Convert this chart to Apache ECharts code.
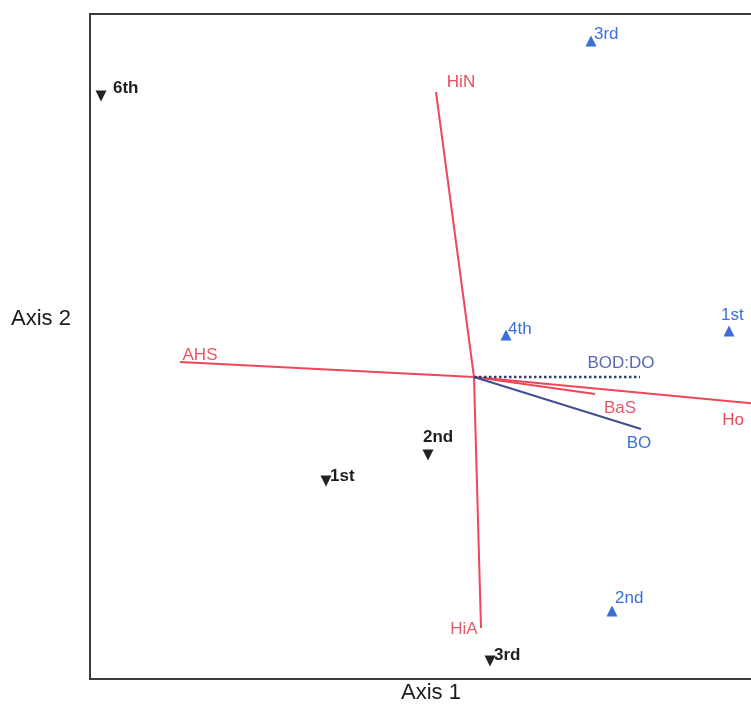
<!DOCTYPE html>
<html><head><meta charset="utf-8">
<script src="https://cdn.jsdelivr.net/npm/echarts@6/dist/echarts.min.js"></script>
<style>html,body{margin:0;padding:0;background:#fff}#c{width:751px;height:705px}</style>
</head><body><div id="c"></div>
<script>
// Site scores (black, down triangles)
const blackNames = ['6th', '1st', '2nd', '3rd'];
const blackX = [-3.73, -1.48, -0.46, 0.16];
const blackY = [2.81, -1.04, -0.78, -2.84];
// Site scores (blue, up triangles)
const blueNames = ['3rd', '4th', '1st', '2nd'];
const blueX = [1.17, 0.32, 2.55, 1.38];
const blueY = [3.36, 0.42, 0.46, -2.34];
// Environmental vectors
const vecNames = ['HiN', 'HiA', 'AHS', 'Ho', 'BaS', 'BO', 'BOD:DO'];
const vecX = [-0.38, 0.07, -2.94, 2.86, 1.21, 1.67, 1.66];
const vecY = [2.85, -2.51, 0.15, -0.27, -0.17, -0.52, 0.0];

const RED = '#ef4658';
const vecStyle = {
  'HiN': {color: RED, type: 'solid', width: 2, lab: '#ec4d5e', off: [25, -10]},
  'HiA': {color: RED, type: 'solid', width: 2, lab: '#e45a66', off: [-17, 1]},
  'AHS': {color: RED, type: 'solid', width: 2, lab: '#ec5564', off: [20, -7]},
  'Ho': {color: RED, type: 'solid', width: 2, lab: '#ef4658', off: [-27, 16]},
  'BaS': {color: RED, type: 'solid', width: 2, lab: '#e8586a', off: [25, 14]},
  'BO': {color: '#414f92', type: 'solid', width: 2, lab: '#3f72d0', off: [-2, 14]},
  'BOD:DO': {color: '#2f3c78', type: 'dotted', width: 2.5, lab: '#5a6ab0', off: [-19, -14]}
};
const blackOff = {'6th': [12, -8], '1st': [4, -5], '2nd': [-5, -18], '3rd': [4, -6]};
const blueOff = {'3rd': [3, -7], '4th': [2, -6], '1st': [-8, -16], '2nd': [3, -13]};

const chart = echarts.init(document.getElementById('c'));
const FONT = 'Liberation Sans, Arial, sans-serif';

const series = [];
vecNames.forEach((n, i) => {
  const s = vecStyle[n];
  series.push({
    type: 'line', name: n, showSymbol: false, silent: true, z: 2,
    data: [[0, 0], [vecX[i], vecY[i]]],
    lineStyle: {color: s.color, width: s.width, type: s.type}
  });
});
series.push({
  type: 'scatter', symbolSize: 0, itemStyle: {color: 'rgba(0,0,0,0)', opacity: 1}, silent: true, z: 5, clip: false,
  data: vecNames.map((n, i) => ({
    value: [vecX[i], vecY[i]], name: n,
    label: {show: true, position: 'inside', formatter: n, offset: vecStyle[n].off,
      color: vecStyle[n].lab, fontSize: 17, fontFamily: FONT, align: 'center', verticalAlign: 'middle'}
  }))
});
series.push({
  type: 'scatter', symbol: 'triangle', symbolRotate: 180, symbolSize: 11, z: 4,
  itemStyle: {color: '#222222', opacity: 1},
  data: blackNames.map((n, i) => ({
    value: [blackX[i], blackY[i]],
    label: {show: true, position: 'inside', formatter: n, offset: blackOff[n],
      color: '#1e1e1e', fontSize: 17, fontWeight: 'bold', fontFamily: FONT, align: 'left', verticalAlign: 'middle'}
  }))
});
series.push({
  type: 'scatter', symbol: 'triangle', symbolSize: 11, z: 4,
  itemStyle: {color: '#3a6fd8', opacity: 1},
  data: blueNames.map((n, i) => ({
    value: [blueX[i], blueY[i]],
    label: {show: true, position: 'inside', formatter: n, offset: blueOff[n],
      color: '#3a6fd8', fontSize: 17, fontFamily: FONT, align: 'left', verticalAlign: 'middle'}
  }))
});

const hidden = {axisLine: {show: false}, axisTick: {show: false}, axisLabel: {show: false}, splitLine: {show: false}};
chart.setOption({
  animation: false,
  backgroundColor: '#ffffff',
  grid: {left: 90, top: 14, right: 0, bottom: 26, show: false},
  xAxis: Object.assign({type: 'value', min: -3.84, max: 2.77}, hidden),
  yAxis: Object.assign({type: 'value', min: -3.02, max: 3.63}, hidden),
  graphic: [
    {type: 'polyline', z: 10, shape: {points: [[760, 14], [90, 14], [90, 679], [760, 679]]},
      style: {stroke: '#3a3a3a', lineWidth: 2, fill: null}},
    {type: 'text', left: 401, top: 682, style: {text: 'Axis 1', fontSize: 22, fontFamily: FONT, fill: '#1a1a1a'}},
    {type: 'text', left: 11, top: 308, style: {text: 'Axis 2', fontSize: 22, fontFamily: FONT, fill: '#1a1a1a'}}
  ],
  series: series
});
</script></body></html>
